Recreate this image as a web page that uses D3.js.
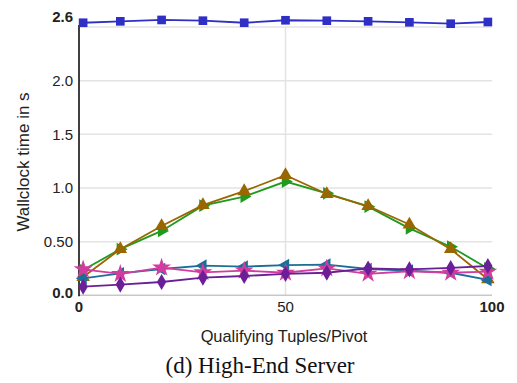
<!DOCTYPE html>
<html>
<head>
<meta charset="utf-8">
<script src="https://cdn.jsdelivr.net/npm/d3@7"></script>
<style>
  html, body { margin: 0; padding: 0; background: #fff; }
  svg { display: block; }
</style>
</head>
<body>
<svg id="chart" width="517" height="383"></svg>
<script>
// Pivot selectivity sweep (x) and wallclock time in seconds per variant
const xValues = [1, 10, 20, 30, 40, 50, 60, 70, 80, 90, 99];
const blueSquare    = [2.54, 2.553, 2.566, 2.559, 2.54, 2.563, 2.559, 2.553, 2.544, 2.531, 2.547];
const greenRight    = [0.235, 0.43, 0.60, 0.835, 0.92, 1.06, 0.95, 0.826, 0.624, 0.453, 0.25];
const brownUp       = [0.17, 0.43, 0.646, 0.84, 0.97, 1.12, 0.944, 0.832, 0.66, 0.43, 0.15];
const tealLeft      = [0.158, 0.205, 0.245, 0.276, 0.267, 0.282, 0.285, 0.245, 0.23, 0.21, 0.143];
const pinkStar      = [0.242, 0.199, 0.258, 0.214, 0.23, 0.21, 0.25, 0.2, 0.224, 0.21, 0.22];
const purpleDiamond = [0.08, 0.1, 0.124, 0.164, 0.18, 0.2, 0.21, 0.25, 0.242, 0.255, 0.273];

const yTicks = [0.0, 0.5, 1.0, 1.5, 2.0, 2.6];
const yTickLabels = ["0.0", "0.50", "1.0", "1.5", "2.0", "2.6"];
const yGrid = [0.5, 1.0, 1.5, 2.0, 2.5];
const xTicks = [0, 50, 100];
const xTickLabels = ["0", "50", "100"];

const series = [
  { values: greenRight,    color: "#1f9a1f", symbol: d3.symbolTriangle, rotate: 90,  size: 70 },
  { values: brownUp,       color: "#996600", symbol: d3.symbolTriangle, rotate: 0,   size: 80 },
  { values: tealLeft,      color: "#1c6e98", symbol: d3.symbolTriangle, rotate: -90, size: 70 },
  { values: pinkStar,      color: "#d23c9e", symbol: d3.symbolStar,     rotate: 0,   size: 110 },
  { values: purpleDiamond, color: "#6a1f98", symbol: d3.symbolDiamond,  rotate: 0,   size: 75 },
  { values: blueSquare,    color: "#2f2fc6", symbol: d3.symbolSquare,   rotate: 0,   size: 75 }
];

const svg = d3.select("#chart");
const font = "'Liberation Sans', Arial, sans-serif";

const x = d3.scaleLinear().domain([0, 100]).range([79, 492]);
const y = d3.scaleLinear().domain([0, 2.6]).range([295.3, 16.3]);

// grid
svg.append("g").selectAll("line").data(yGrid).join("line")
  .attr("x1", x(0)).attr("x2", x(100))
  .attr("y1", d => y(d)).attr("y2", d => y(d))
  .attr("stroke", "#e3e3e3").attr("stroke-width", 1.5);
svg.append("line")
  .attr("x1", x(50)).attr("x2", x(50))
  .attr("y1", y(2.5)).attr("y2", y(0))
  .attr("stroke", "#e3e3e3").attr("stroke-width", 1.5);

// axis lines
svg.append("line")
  .attr("x1", x(0)).attr("x2", x(100))
  .attr("y1", y(0)).attr("y2", y(0))
  .attr("stroke", "#c8c8c8").attr("stroke-width", 1.5);
svg.append("line")
  .attr("x1", x(0)).attr("x2", x(0))
  .attr("y1", y(2.52)).attr("y2", y(0) + 1)
  .attr("stroke", "#000").attr("stroke-width", 1.5);

// y tick labels
svg.append("g").selectAll("text").data(yTicks).join("text")
  .attr("x", 73)
  .attr("y", d => y(d))
  .attr("dy", (d, i) => i === 0 ? "0.15em" : "0.35em")
  .attr("text-anchor", "end")
  .attr("font-family", font).attr("font-size", 15)
  .attr("font-weight", (d, i) => (i === 0 || i === yTicks.length - 1) ? "bold" : "normal")
  .attr("fill", "#222")
  .text((d, i) => yTickLabels[i]);

// x tick labels
svg.append("g").selectAll("text").data(xTicks).join("text")
  .attr("x", d => x(d))
  .attr("y", 312)
  .attr("text-anchor", "middle")
  .attr("font-family", font).attr("font-size", 15)
  .attr("font-weight", (d, i) => (i === 0 || i === xTicks.length - 1) ? "bold" : "normal")
  .attr("fill", "#222")
  .text((d, i) => xTickLabels[i]);

// axis titles
svg.append("text")
  .attr("x", 284).attr("y", 342)
  .attr("text-anchor", "middle")
  .attr("font-family", font).attr("font-size", 16.4)
  .attr("fill", "#222")
  .text("Qualifying Tuples/Pivot");
svg.append("text")
  .attr("transform", "translate(29,162) rotate(-90)")
  .attr("text-anchor", "middle")
  .attr("font-family", font).attr("font-size", 17)
  .attr("fill", "#222")
  .text("Wallclock time in s");

// caption
svg.append("text")
  .attr("x", 260).attr("y", 373)
  .attr("text-anchor", "middle")
  .attr("font-family", "'Liberation Serif', 'Times New Roman', serif").attr("font-size", 23)
  .attr("fill", "#111")
  .text("(d) High-End Server");

// series
const line = d3.line().x((d, i) => x(xValues[i])).y(d => y(d));
series.forEach(s => {
  const g = svg.append("g");
  g.append("path")
    .datum(s.values)
    .attr("d", line)
    .attr("fill", "none")
    .attr("stroke", s.color)
    .attr("stroke-width", 1.8);
  g.selectAll("path.m").data(s.values).join("path")
    .attr("class", "m")
    .attr("d", d3.symbol().type(s.symbol).size(s.size))
    .attr("transform", (d, i) => `translate(${x(xValues[i])},${y(d)}) rotate(${s.rotate})`)
    .attr("fill", s.color);
});
</script>
</body>
</html>
